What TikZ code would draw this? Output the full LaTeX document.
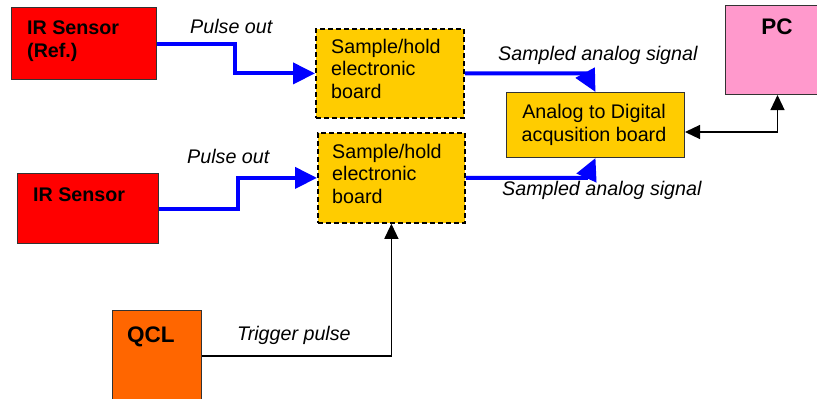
\documentclass[tikz,border=0pt]{standalone}
\usepackage{fontspec}
\setmainfont{Liberation Sans}
\usetikzlibrary{arrows.meta}
\definecolor{boxred}{HTML}{FF0000}
\definecolor{boxyel}{HTML}{FFCC00}
\definecolor{boxpink}{HTML}{FF99CC}
\definecolor{boxorange}{HTML}{FF6600}
\definecolor{sigblue}{HTML}{0000FF}
\definecolor{edge}{HTML}{333333}
\tikzset{
  txt/.style={font=\fontsize{19.7}{22.3}\selectfont, inner sep=0pt},
  btxt/.style={font=\fontsize{19.7}{22.3}\selectfont\bfseries, inner sep=0pt, align=left},
  bigbtxt/.style={font=\fontsize{22.5}{25}\selectfont\bfseries, inner sep=0pt},
  itxt/.style={font=\fontsize{19.7}{22.3}\selectfont\itshape, inner sep=0pt},
  solidbox/.style={draw=edge, line width=1pt, anchor=north west, inner sep=0pt},
  dashbox/.style={draw=black, line width=1.8pt, dash pattern=on 5pt off 3pt, fill=boxyel, anchor=north west, inner sep=0pt},
  sig/.style={draw=sigblue, line width=4pt, -{Triangle[length=22pt,width=21pt]}},
  ctl/.style={draw=black, line width=1.2pt, -{Triangle[length=15pt,width=14pt]}},
}
\begin{document}
\begin{tikzpicture}[x=1pt,y=-1pt]
\clip (0,0) rectangle (817,399);
% boxes
\node[solidbox, fill=boxred, minimum width=145pt, minimum height=72pt] (irref) at (11,7) {};
\node[solidbox, fill=boxred, minimum width=141pt, minimum height=70pt] (ir) at (17,173) {};
\node[solidbox, fill=boxorange, minimum width=89pt, minimum height=100pt] (qcl) at (112,310) {};
\node[dashbox, minimum width=148pt, minimum height=89pt] (sh1) at (315,28) {};
\node[dashbox, minimum width=147pt, minimum height=90pt] (sh2) at (317,132) {};
\node[solidbox, fill=boxyel, minimum width=178pt, minimum height=65pt] (ad) at (506,92) {};
\node[solidbox, fill=boxpink, minimum width=92pt, minimum height=89pt] (pc) at (725,5) {};
% box texts (base anchor = baseline of the last line)
\node[btxt, anchor=base west] (tirref) at (27,57) {IR Sensor\\(Ref.)};
\node[btxt, anchor=base west] (tir) at (33,201) {IR Sensor};
\node[bigbtxt, anchor=base west] (tqcl) at (127,342) {QCL};
\node[bigbtxt, anchor=base] (tpc) at (777,34) {PC};
\node[txt, align=left, anchor=base west] (tsh1) at (331,98) {Sample/hold\\electronic\\board};
\node[txt, align=left, anchor=base west] (tsh2) at (332,203) {Sample/hold\\electronic\\board};
\node[txt, align=center, anchor=base] (tad) at (594,141) {Analog to Digital\\acqusition board};
% connector labels
\node[itxt, anchor=base west] (lp1) at (190,33) {Pulse out};
\node[itxt, anchor=base west] (lp2) at (187,163) {Pulse out};
\node[itxt, anchor=base west] (ls1) at (498,60) {Sampled analog signal};
\node[itxt, anchor=base west] (ls2) at (502,195) {Sampled analog signal};
\node[itxt, anchor=base west] (lt) at (237,340) {Trigger pulse};
% connectors
\coordinate (k1) at (235,0);
\coordinate (k2) at (238,0);
\draw[sig] (irref.east) -| (k1 |- sh1.west) -- (sh1.west);
\draw[sig] (ir.east) -| (k2 |- sh2.west) -- (sh2.west);
\draw[sig] (sh1.east) -- ([xshift=-10pt]ad.north |- sh1.east) -- (ad.north);
\draw[sig] (sh2.east) -- ([xshift=-9pt]ad.south |- sh2.east) -- (ad.south);
\draw[ctl, {Triangle[length=15pt,width=14pt]}-{Triangle[length=15pt,width=14pt]}] ([yshift=-7pt]ad.east) -| ([xshift=6pt]pc.south);
\draw[ctl] ([yshift=-46pt]qcl.north east) -| (sh2.south);
\end{tikzpicture}
\end{document}
